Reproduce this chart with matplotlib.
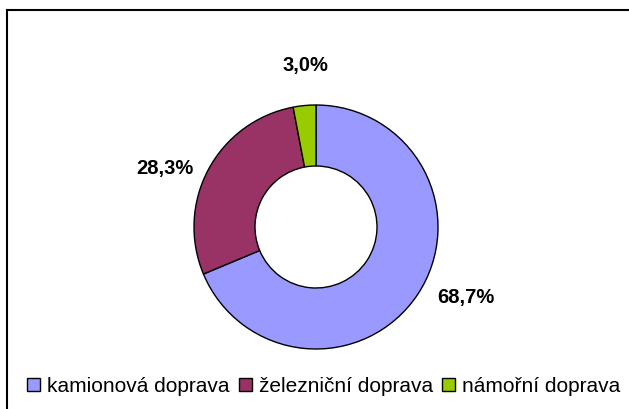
import matplotlib
matplotlib.use("Agg")
import matplotlib.pyplot as plt
from matplotlib.patches import Patch
from matplotlib.lines import Line2D

categories = ["kamionová doprava", "železniční doprava", "námořní doprava"]
values = [68.7, 28.3, 3.0]
labels = ["68,7%", "28,3%", "3,0%"]
colors = ["#9999FF", "#993366", "#99CC00"]
# label anchor positions (in units of outer radius, relative to centre)
label_pos = [(1.23, -0.566), (-1.238, 0.49), (-0.09, 1.336)]

plt.rcParams['font.family'] = ['Liberation Sans', 'DejaVu Sans']

W, H = 629, 410
fig = plt.figure(figsize=(W / 100, H / 100), dpi=100)
cx, cy, r = 316, 228, 122
ax = fig.add_axes([(cx - r) / W, (H - cy - r) / H, 2 * r / W, 2 * r / H])
ax.pie(values, colors=colors, startangle=90, counterclock=False,
       radius=1.0,
       wedgeprops=dict(width=0.5, edgecolor="black", linewidth=1.0))
ax.set_xlim(-1, 1)
ax.set_ylim(-1, 1)
ax.set_aspect("equal")
ax.axis("off")

for lab, (x, y) in zip(labels, label_pos):
    ax.text(x, y, lab, ha="center", va="center", fontsize=14.5,
            fontweight="bold", color="black")

handles = [Patch(facecolor=c, edgecolor="black", linewidth=1.0) for c in colors]
fig.legend(handles, categories, loc="center", bbox_to_anchor=(0.515, 1 - 387 / H),
           ncol=3, frameon=False, fontsize=15, handlelength=0.6, handleheight=0.6,
           handletextpad=0.35, columnspacing=0.45, borderpad=0)

fig.add_artist(Line2D([7 / W, 1], [1 - 11 / H, 1 - 11 / H], color="black", lw=1.5,
                      transform=fig.transFigure))
fig.add_artist(Line2D([7 / W, 7 / W], [0, 1 - 11 / H], color="black", lw=1.5,
                      transform=fig.transFigure))

fig.savefig("out.png", dpi=100, facecolor="white")
